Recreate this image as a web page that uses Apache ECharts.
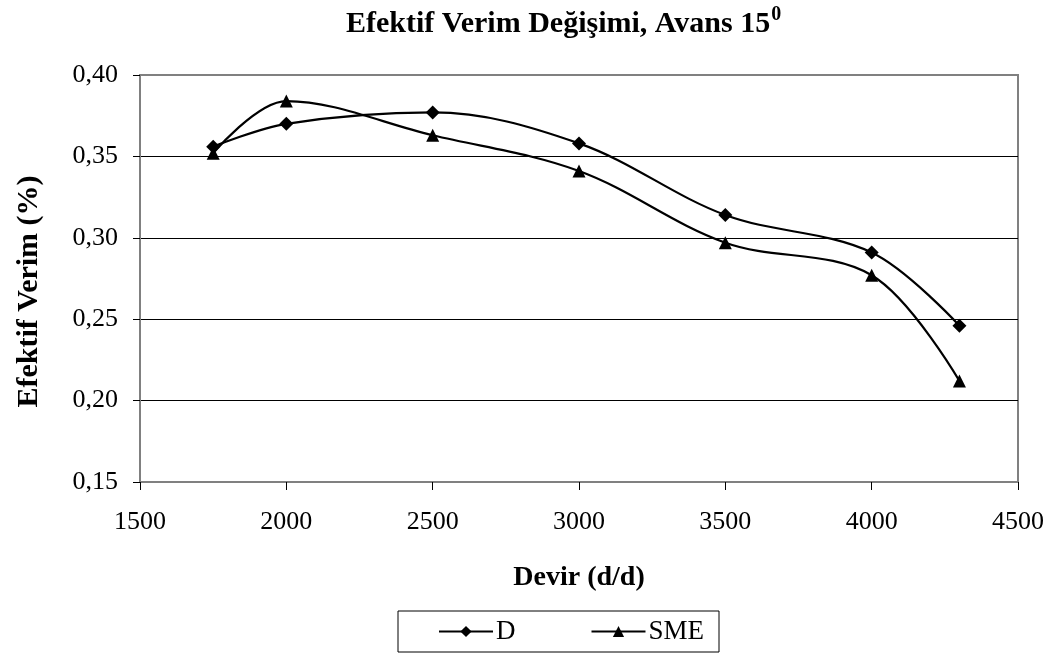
<!DOCTYPE html>
<html>
<head>
<meta charset="utf-8">
<script src="https://cdn.jsdelivr.net/npm/echarts@6/dist/echarts.min.js"></script>
<style>
  html, body { margin: 0; padding: 0; background: #fff; }
  #chart { width: 1054px; height: 655px; }
</style>
</head>
<body>
<div id="chart"></div>
<script>
// Engine speed (d/d) and effective efficiency for each fuel
const devir = [1750, 2000, 2500, 3000, 3500, 4000, 4300];
const verimD = [0.356, 0.370, 0.377, 0.358, 0.314, 0.291, 0.246];
const verimSME = [0.352, 0.384, 0.363, 0.341, 0.297, 0.277, 0.212];
const seriesNames = ['D', 'SME'];

const FONT = '"Liberation Serif", "Times New Roman", serif';

function pairs(xs, ys) {
  return xs.map((x, i) => [x, ys[i]]);
}

const chart = echarts.init(document.getElementById('chart'), null, { renderer: 'canvas' });

chart.setOption({
  animation: false,
  backgroundColor: '#ffffff',
  title: {
    text: '{t|Efektif Verim Değişimi, Avans 15}{s|0}',
    left: 346,
    top: 3,
    padding: 0,
    textStyle: {
      rich: {
        t: { fontFamily: FONT, fontSize: 30, lineHeight: 36, fontWeight: 'bold', color: '#000', verticalAlign: 'bottom' },
        s: { fontFamily: FONT, fontSize: 20, lineHeight: 20, fontWeight: 'bold', color: '#000', verticalAlign: 'top', padding: [2, 0, 0, 1] }
      }
    }
  },
  grid: {
    left: 140,
    right: 36,
    top: 75,
    bottom: 173,
    show: true,
    borderColor: '#808080',
    borderWidth: 2,
    backgroundColor: 'transparent'
  },
  xAxis: {
    type: 'value',
    min: 1500,
    max: 4500,
    interval: 500,
    name: 'Devir (d/d)',
    nameLocation: 'middle',
    nameGap: 82,
    nameTextStyle: { fontFamily: FONT, fontSize: 28, fontWeight: 'bold', color: '#000' },
    axisLine: { show: true, lineStyle: { color: '#808080', width: 2 } },
    axisTick: { show: true, inside: false, length: 8, lineStyle: { color: '#000', width: 1 } },
    axisLabel: {
      fontFamily: FONT, fontSize: 26, color: '#000', margin: 27,
      formatter: v => String(v)
    },
    splitLine: { show: false }
  },
  yAxis: {
    type: 'value',
    min: 0.15,
    max: 0.40,
    interval: 0.05,
    name: 'Efektif Verim (%)',
    nameLocation: 'middle',
    nameGap: 96,
    nameRotate: 90,
    nameTextStyle: { fontFamily: FONT, fontSize: 30, fontWeight: 'bold', color: '#000', padding: [0, 26, 0, 0] },
    axisLine: { show: true, lineStyle: { color: '#808080', width: 2 } },
    axisTick: { show: true, inside: false, length: 7, lineStyle: { color: '#000', width: 1 } },
    axisLabel: {
      fontFamily: FONT, fontSize: 26, color: '#000', margin: 22,
      formatter: v => v.toFixed(2).replace('.', ',')
    },
    splitLine: {
      show: true,
      lineStyle: { color: ['transparent', '#000', '#000', '#000', '#000', 'transparent'], width: 1 }
    }
  },
  legend: {
    left: 398,
    top: 611,
    orient: 'horizontal',
    borderColor: '#000',
    borderWidth: 1,
    padding: [7, 15, 7, 40],
    itemGap: 75,
    itemWidth: 54,
    itemHeight: 14,
    textStyle: { fontFamily: FONT, fontSize: 27, color: '#000', padding: [0, 0, 0, -2] },
    data: seriesNames
  },
  series: [
    {
      name: seriesNames[0],
      type: 'line',
      data: pairs(devir, verimD),
      smooth: 0.35,
      symbol: 'diamond',
      symbolSize: 14,
      itemStyle: { color: '#000' },
      lineStyle: { color: '#000', width: 2.2 }
    },
    {
      name: seriesNames[1],
      type: 'line',
      data: pairs(devir, verimSME),
      smooth: 0.35,
      symbol: 'triangle',
      symbolSize: 13,
      itemStyle: { color: '#000' },
      lineStyle: { color: '#000', width: 2.2 }
    }
  ]
});
</script>
</body>
</html>
